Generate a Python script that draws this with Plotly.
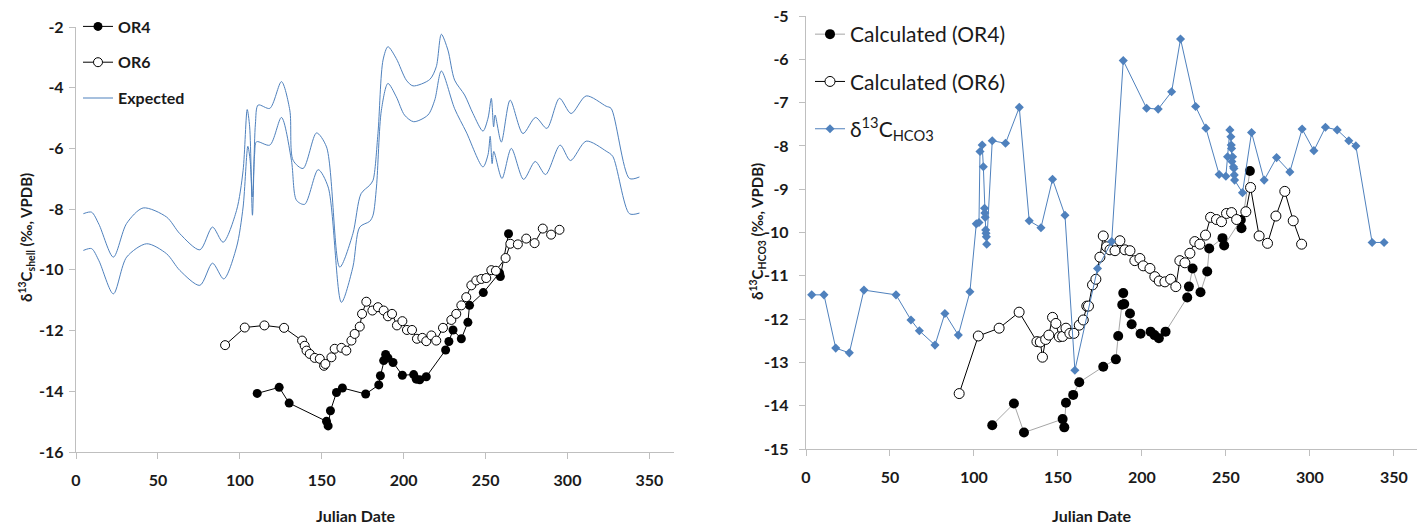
import plotly.graph_objects as go

# ---------------- Left panel data ----------------
exp_up_x = [4.5, 9.5, 14, 22.8, 30.9, 41, 55.3, 63.4, 75.6, 83.3, 89.8, 98, 102, 104.5, 106, 107.7, 109.5, 111.2,
            118.3, 125.4, 130.5, 132.5, 138.6, 146.8, 152.9, 161, 169, 174, 179.3, 181.3, 184.3, 187.4, 190.4,
            195.5, 201.6, 205.7, 215.9, 219.9, 223, 227, 231.1, 237.2, 242.3, 248.4, 251.5, 253.5, 254.9, 255.8,
            259.6, 265, 272.8, 280.5, 287.4, 295.1, 302.2, 311.4, 323.6, 326.6, 337.8, 343.9]
exp_up_y = [-8.15, -8.1, -8.5, -9.58, -8.47, -7.96, -8.26, -8.81, -9.34, -8.59, -9.09, -8.04, -6.72, -4.72, -5.29,
            -8.2, -5.2, -4.57, -4.68, -3.8, -4.74, -6.39, -6.66, -5.49, -5.95, -9.91, -8.81, -7.49, -7.21, -7.05,
            -5.51, -3.09, -2.65, -3.04, -3.75, -3.94, -3.73, -3.31, -2.24, -2.76, -3.75, -4.24, -4.85, -5.43,
            -5.0, -4.35, -5.29, -4.9, -5.79, -4.41, -5.51, -4.98, -5.34, -4.35, -4.85, -4.27, -4.61, -4.68,
            -6.99, -6.94]

exp_lo_x = [4.5, 9.5, 14, 22.8, 30.9, 43.1, 55.3, 63.4, 75.6, 83.3, 90.2, 98, 102, 104.9, 106.3, 107.7, 109,
            110.2, 118.3, 125.4, 131.5, 134.6, 139.6, 147.8, 153.9, 162, 169, 173.2, 179.3, 181.3, 183.4, 186.4,
            190.4, 195.5, 200.5, 206.1, 214.8, 219, 223, 231.1, 238.2, 248.4, 251.5, 252.8, 254, 255, 260,
            265.7, 273.2, 280.3, 286.6, 295.5, 301.8, 311.4, 323.6, 327.6, 337.8, 343.9]
exp_lo_y = [-9.36, -9.3, -9.7, -10.79, -9.58, -9.14, -9.47, -10.02, -10.51, -9.78, -10.3, -9.25, -7.93, -5.93,
            -6.4, -7.6, -6.2, -5.78, -5.89, -4.98, -6.39, -7.71, -7.84, -6.7, -7.27, -11.07, -9.91, -8.59, -8.4,
            -8.2, -7.27, -4.74, -3.86, -4.3, -4.9, -5.12, -4.9, -4.4, -3.45, -4.69, -5.46, -6.61, -6.2, -5.6,
            -6.5, -6.1, -6.99, -6.0, -7.02, -6.43, -6.86, -5.89, -6.4, -5.76, -6.09, -6.26, -8.15, -8.13]

or6_l_x = [91, 103, 115, 127, 138, 139.6, 140.7, 142.7, 145.7, 148.8, 151.4, 152.2, 155.9, 157.9, 162, 165,
           168.1, 170.1, 173.2, 174.6, 177.2, 180.9, 184.3, 187.8, 190.4, 192.9, 195.9, 199.2, 202, 205.1, 208.1,
           211.4, 213.8, 216.9, 219.9, 224, 229.1, 232.1, 235.2, 238.2, 241.3, 244.3, 247.4, 250.4, 253.5,
           256.3, 262.2, 265.1, 269.7, 274.8, 279.9, 284.9, 290, 295.1]
or6_l_y = [-12.48, -11.9, -11.83, -11.91, -12.33, -12.5, -12.66, -12.77, -12.9, -12.93, -13.16, -13.1, -12.88,
           -12.6, -12.57, -12.66, -12.33, -12.11, -11.87, -11.45, -11.05, -11.34, -11.23, -11.34, -11.53, -11.45,
           -11.83, -11.69, -11.98, -11.98, -12.27, -12.24, -12.35, -12.16, -12.33, -11.91, -11.65, -11.45,
           -11.17, -10.9, -10.51, -10.35, -10.3, -10.27, -10.01, -10.03, -9.61, -9.14, -9.16, -8.97, -9.12,
           -8.64, -8.84, -8.68]

or4_l_x = [110.6, 124, 130.1, 152.9, 153.9, 155.3, 159, 162.6, 176.8, 184.8, 185.8, 187.8, 189, 190.4, 193.5,
           199.2, 206.1, 207.7, 209.8, 213.8, 225.6, 227.6, 230.1, 235.2, 239.2, 240.2, 248.6, 258.5, 259, 264]
or4_l_y = [-14.07, -13.87, -14.39, -14.99, -15.14, -14.64, -14.04, -13.89, -14.09, -13.79, -13.49, -12.99,
           -12.79, -12.9, -13.05, -13.47, -13.45, -13.6, -13.62, -13.52, -12.64, -12.36, -11.98, -12.27, -11.73,
           -11.17, -10.75, -10.1, -10.22, -8.81]

# ---------------- Right panel data ----------------
hco3_x = [3.4, 10.7, 17.7, 25.8, 34.5, 53.6, 62.5, 67.5, 76.8, 82.7, 90.7, 97.6, 101.4, 103.0, 103.6, 104.9,
          105.6, 106.3, 106.5, 106.7, 107, 107.2, 107.4, 107.6, 110.9, 118.8, 127, 132.9, 139.9, 146.8, 154.2,
          160.1, 173.6, 182, 188.9, 202.8, 209.7, 217.7, 223, 232, 238.1, 246, 250, 251, 252.4, 253, 253.2,
          253.4, 253.6, 254, 254.5, 254.8, 255, 255.2, 259.9, 265.3, 272.8, 280.2, 288.1, 295.4, 302.4, 309.3,
          316.3, 323.2, 327.4, 337.1, 344.2]
hco3_y = [-11.44, -11.44, -12.67, -12.78, -11.33, -11.44, -12.02, -12.27, -12.6, -11.87, -12.37, -11.37, -9.8,
          -9.77, -8.13, -7.98, -8.48, -9.44, -9.55, -9.65, -9.94, -10.02, -10.1, -10.27, -7.88, -7.94, -7.11,
          -9.73, -9.89, -8.77, -9.6, -13.18, -10.83, -10.21, -6.03, -7.13, -7.15, -6.75, -5.53, -7.09, -7.59,
          -8.66, -8.7, -8.25, -7.63, -7.79, -7.98, -8.06, -8.36, -8.25, -8.48, -8.52, -8.67, -8.79, -9.08, -7.69,
          -8.79, -8.27, -8.6, -7.61, -8.11, -7.57, -7.63, -7.88, -8.0, -10.23, -10.23]

or6_r_x = [91.2, 102.6, 115, 126.9, 137.5, 139.5, 140.8, 142.7, 144.6, 146.8, 148.8, 150.8, 152.8, 154.8, 157.1,
           159.5, 162.7, 165.1, 167.2, 168.2, 170.6, 172.6, 175, 177, 179, 181, 184, 186.9, 189.9, 192.9, 195.8,
           198.8, 200.8, 204.8, 207.7, 210.3, 213.7, 217.1, 220.2, 222.6, 225.6, 228.6, 231.5, 234.5, 237.9,
           240.9, 244.4, 247.4, 250.4, 253.4, 256.4, 261.9, 264.7, 269.8, 274.8, 279.8, 285.1, 290.1, 295.1]
or6_r_y = [-13.72, -12.39, -12.21, -11.84, -12.52, -12.53, -12.88, -12.47, -12.37, -11.96, -12.1, -12.41, -12.4,
           -12.21, -12.33, -12.33, -12.14, -12.02, -11.7, -11.7, -11.21, -11.08, -10.57, -10.08, -10.33, -10.4,
           -10.42, -10.19, -10.4, -10.42, -10.65, -10.6, -10.77, -10.83, -11.02, -11.12, -11.14, -11.08, -11.25,
           -10.65, -10.7, -10.48, -10.21, -10.27, -10.06, -9.65, -9.7, -9.75, -9.56, -9.54, -9.7, -9.52, -8.96,
           -10.08, -10.25, -9.62, -9.05, -9.73, -10.27]

or4_r_x = [110.9, 123.8, 129.8, 152.8, 153.8, 154.8, 159.1, 162.7, 177, 184.5, 185.9, 188.3, 188.9, 189.5, 192.9,
           193.9, 199.2, 205.2, 207.5, 210.1, 214.1, 227, 228, 230.2, 234.9, 238.9, 240.1, 248, 249, 258.9, 259.3,
           264.3]
or4_r_y = [-14.45, -13.95, -14.62, -14.31, -14.5, -13.93, -13.75, -13.46, -13.1, -12.93, -12.39, -11.67, -11.4,
           -11.65, -11.87, -12.12, -12.34, -12.29, -12.37, -12.44, -12.29, -11.5, -11.25, -10.83, -11.38, -10.9,
           -10.37, -10.13, -10.3, -9.71, -9.9, -8.58]

x_ticks = [0, 50, 100, 150, 200, 250, 300, 350]
left_y_ticks = [-16, -14, -12, -10, -8, -6, -4, -2]
right_y_ticks = [-15, -14, -13, -12, -11, -10, -9, -8, -7, -6, -5]

BLUE = "#4F81BD"
AX = "#BFBFBF"
FONT = "Lato"
TXT = "#1a1a1a"

# the page body adds an 8 px offset; lay out in screen pixels minus that offset
OFF = 8
W, H = 1425 - OFF, 525 - OFF


def px(v):
    return (v - OFF) / W


def py(v):
    return 1 - (v - OFF) / H


def bold(vals):
    return ["<b>%g</b>" % v for v in vals]


fig = go.Figure()

# Left panel
fig.add_trace(go.Scatter(x=or4_l_x, y=or4_l_y, mode="lines+markers", name="OR4",
                         line=dict(color="black", width=1),
                         marker=dict(symbol="circle", size=9, color="black"),
                         xaxis="x", yaxis="y", legend="legend", legendgroup="a"))
fig.add_trace(go.Scatter(x=or6_l_x, y=or6_l_y, mode="lines+markers", name="OR6",
                         line=dict(color="black", width=1),
                         marker=dict(symbol="circle", size=9, color="white", line=dict(color="black", width=1)),
                         xaxis="x", yaxis="y", legend="legend", legendgroup="b"))
fig.add_trace(go.Scatter(x=exp_up_x, y=exp_up_y, mode="lines", name="Expected",
                         line=dict(color=BLUE, width=1, shape="spline", smoothing=0.8),
                         xaxis="x", yaxis="y", legend="legend", legendgroup="c"))
fig.add_trace(go.Scatter(x=exp_lo_x, y=exp_lo_y, mode="lines", name="Expected", showlegend=False,
                         line=dict(color=BLUE, width=1, shape="spline", smoothing=0.8),
                         xaxis="x", yaxis="y", legend="legend", legendgroup="c"))

# Right panel
fig.add_trace(go.Scatter(x=or4_r_x, y=or4_r_y, mode="lines+markers", name="Calculated (OR4)",
                         line=dict(color="#A6A6A6", width=1),
                         marker=dict(symbol="circle", size=10, color="black"),
                         xaxis="x2", yaxis="y2", legend="legend2", legendgroup="d"))
fig.add_trace(go.Scatter(x=or6_r_x, y=or6_r_y, mode="lines+markers", name="Calculated (OR6)",
                         line=dict(color="black", width=1),
                         marker=dict(symbol="circle", size=10, color="white", line=dict(color="black", width=1)),
                         xaxis="x2", yaxis="y2", legend="legend2", legendgroup="e"))
fig.add_trace(go.Scatter(x=hco3_x, y=hco3_y, mode="lines+markers", name="δ<sup>13</sup>C<sub>HCO3</sub>",
                         line=dict(color=BLUE, width=1),
                         marker=dict(symbol="diamond", size=7, color=BLUE),
                         xaxis="x2", yaxis="y2", legend="legend2", legendgroup="f"))

axis_common = dict(showline=True, linecolor=AX, linewidth=1.3, ticks="outside", ticklen=6, tickcolor=AX,
                   tickwidth=1.3, showgrid=False, zeroline=False, automargin=False,
                   ticklabeloverflow="allow",
                   tickfont=dict(family=FONT, size=16, color=TXT))

fig.update_layout(
    width=W, height=H, margin=dict(l=0, r=0, t=0, b=0, autoexpand=False),
    paper_bgcolor="white", plot_bgcolor="white",
    font=dict(family=FONT),
    xaxis=dict(domain=[px(76), px(674)], range=[0, 365], tickvals=x_ticks, ticktext=bold(x_ticks),
               anchor="y", ticklabelstandoff=8, **axis_common),
    yaxis=dict(domain=[py(452), py(27)], range=[-16, -2], tickvals=left_y_ticks,
               ticktext=bold(left_y_ticks), anchor="x", ticklabelstandoff=2, **axis_common),
    xaxis2=dict(domain=[px(806), px(1419)], range=[0, 365], tickvals=x_ticks, ticktext=bold(x_ticks),
                anchor="y2", ticklabelstandoff=8, **axis_common),
    yaxis2=dict(domain=[py(449), py(16)], range=[-15, -5], tickvals=right_y_ticks,
                ticktext=bold(right_y_ticks), anchor="x2", ticklabelstandoff=7, **axis_common),
    legend=dict(x=px(78), y=py(9.5), xanchor="left", yanchor="top", bgcolor="rgba(0,0,0,0)",
                font=dict(family=FONT, size=16, color=TXT, weight="bold"),
                traceorder="grouped", tracegroupgap=12, itemwidth=30),
    legend2=dict(x=px(810), y=py(14), xanchor="left", yanchor="top", bgcolor="rgba(0,0,0,0)",
                 font=dict(family=FONT, size=21, color=TXT),
                 traceorder="grouped", tracegroupgap=17, itemwidth=30),
    annotations=[
        dict(text="<b>δ<sup>13</sup>C<sub>shell</sub> (‰, VPDB)</b>", x=px(27), y=py(238),
             xref="paper", yref="paper", textangle=-90, showarrow=False,
             font=dict(family=FONT, size=15, color=TXT), xanchor="center", yanchor="middle"),
        dict(text="<b>δ<sup>13</sup>C<sub>HCO3</sub> (‰, VPDB)</b>", x=px(757), y=py(232),
             xref="paper", yref="paper", textangle=-90, showarrow=False,
             font=dict(family=FONT, size=15, color=TXT), xanchor="center", yanchor="middle"),
        dict(text="<b>Julian Date</b>", x=px(356), y=py(515), xref="paper", yref="paper",
             showarrow=False, font=dict(family=FONT, size=16, color=TXT),
             xanchor="center", yanchor="middle"),
        dict(text="<b>Julian Date</b>", x=px(1092), y=py(515), xref="paper", yref="paper",
             showarrow=False, font=dict(family=FONT, size=16, color=TXT),
             xanchor="center", yanchor="middle"),
    ],
)

fig.write_html("out.html")
